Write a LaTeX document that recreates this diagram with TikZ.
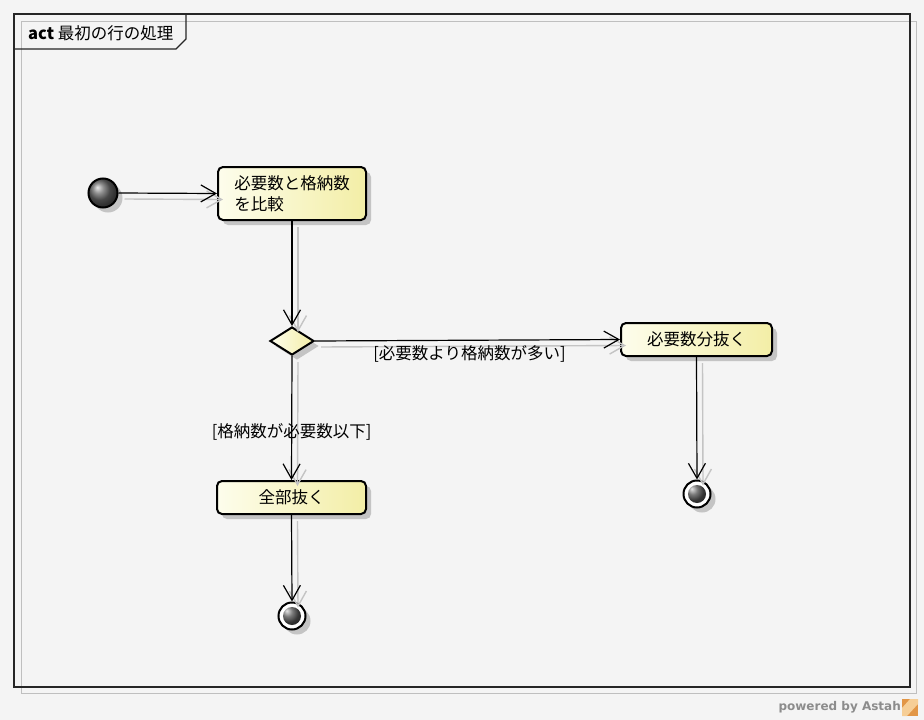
\documentclass[tikz,border=0pt]{standalone}
\usepackage{fontspec}
\setmainfont{Noto Sans CJK JP}
\newfontfamily\brandfont{DejaVu Sans}
\usepackage{xcolor}
\usepackage{tikz}
\usetikzlibrary{positioning, arrows.meta, shapes.geometric, shadows, calc}

\definecolor{bgGray}{RGB}{244,244,244}
\definecolor{actLeft}{RGB}{253,253,236}
\definecolor{actRight}{RGB}{243,238,166}
\definecolor{shadowGray}{RGB}{196,196,196}
\definecolor{logoOrange}{RGB}{226,150,70}
\definecolor{logoLight}{RGB}{246,206,150}

\tikzset{
    frameline/.style={black!85, line width=1.2pt},
    frameshadow/.style={black!25, line width=1pt},
    nodeshadow/.style={drop shadow={shadow xshift=5pt, shadow yshift=-5pt, fill=shadowGray, opacity=1}},
    action/.style={draw=black, line width=2pt, rounded corners=5pt, left color=actLeft, right color=actRight,
        minimum height=33pt, align=left, inner sep=2pt, nodeshadow},
    decision/.style={diamond, draw=black, line width=2pt, left color=actLeft, right color=actRight,
        minimum width=44pt, minimum height=28pt, aspect=1.57, inner sep=0pt, nodeshadow},
    initial/.style={circle, draw=black, line width=2pt, minimum size=29pt, inner sep=0pt,
        ball color=black!60, nodeshadow},
    final/.style={circle, draw=black, line width=2pt, minimum size=27pt, inner sep=0pt, fill=white, nodeshadow,
        path picture={\shade[ball color=black!70] (path picture bounding box.center) circle (9pt);}},
    flow/.style={-{Straight Barb[length=15pt, width=17pt]}, line width=1.2pt},
    flowshadow/.style={flow, draw=shadowGray, line width=1.4pt},
    guard/.style={inner sep=1pt}
}

\begin{document}
\begin{tikzpicture}[x=1pt, y=-1pt, font=\fontsize{16.5}{21}\selectfont]
    % background and frame
    \fill[bgGray] (0,0) rectangle (924,720);
    \useasboundingbox (0,0) rectangle (924,720);
    \draw[frameshadow] (21,21) rectangle (916,693);
    \draw[frameline] (14,14) rectangle (910,687);
    \draw[frameline] (14,49) -- (176,49) -- (186,39) -- (186,14);
    \node[anchor=west, inner sep=0pt] (title) at (28,33) {\textbf{act} 最初の行の処理};

    % nodes
    \node[initial] (start) at (103,193) {};
    \node[action, minimum width=148pt, minimum height=53pt] (compare) at (292,193.5) {必要数と格納数\\を比較};
    \node[decision] (check) at (292,341) {};
    \node[action, minimum width=151pt] (takeneed) at (696.5,339.5) {必要数分抜く};
    \node[action, minimum width=149pt] (takeall) at (291.5,497.5) {全部抜く};
    \node[final] (endA) at (292,616) {};
    \node[final] (endB) at (697,494) {};

    % shadows of the flows
    \foreach \a/\b in {start.east/compare.west, compare.south/check.north, check.east/takeneed.west,
        check.south/takeall.north, takeall.south/endA.north, takeneed.south/endB.north} {
        \draw[flowshadow] ([shift={(6,6)}]\a) -- ([shift={(6,6)}]\b);
    }

    % flows
    \draw[flow] (start.east) -- (compare.west);
    \draw[flow] (compare.south) -- (check.north);
    \draw[flow] (check.east) -- (takeneed.west)
        node[midway, below=4pt, xshift=2pt, guard] (moreLabel) {[必要数より格納数が多い]};
    \draw[flow] (check.south) -- (takeall.north)
        node[pos=0.61, guard] (lessLabel) {[格納数が必要数以下]};
    \draw[flow] (takeall.south) -- (endA.north);
    \draw[flow] (takeneed.south) -- (endB.north);

    % footer
    \node[anchor=east, inner sep=0pt, text=black!45, font=\brandfont\bfseries\fontsize{12}{14}\selectfont] (brand) at (901,707) {powered by Astah};
    \fill[logoOrange] (902,699) rectangle (918,716);
    \fill[logoLight] (902,708) -- (910,699) -- (918,699) -- (918,704) -- (907,716) -- (902,716) -- cycle;
\end{tikzpicture}
\end{document}
